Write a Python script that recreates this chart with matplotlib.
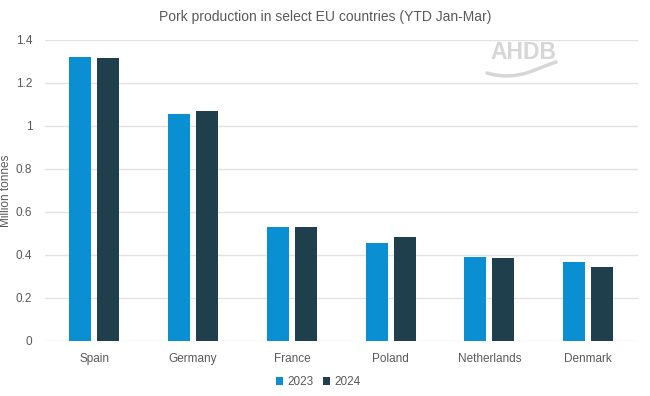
import matplotlib.pyplot as plt
import numpy as np

countries = ["Spain", "Germany", "France", "Poland", "Netherlands", "Denmark"]
prod_2023 = [1.32, 1.056, 0.528, 0.455, 0.392, 0.367]
prod_2024 = [1.315, 1.068, 0.532, 0.484, 0.388, 0.344]
yticks = [0, 0.2, 0.4, 0.6, 0.8, 1.0, 1.2, 1.4]
ytick_labels = ["0", "0.2", "0.4", "0.6", "0.8", "1", "1.2", "1.4"]

C23 = "#0b8fd3"
C24 = "#203f4c"
TXT = "#595959"

plt.rcParams["font.family"] = ["Liberation Sans", "DejaVu Sans"]

fig = plt.figure(figsize=(6.5, 3.96), dpi=100)
ax = fig.add_axes([0.069, 0.139, 0.912, 0.76])

x = np.arange(len(countries))
w = 0.223
ax.bar(x - 0.142, prod_2023, w, color=C23, label="2023", zorder=3)
ax.bar(x + 0.142, prod_2024, w, color=C24, label="2024", zorder=3)

ax.set_xlim(-0.5, len(countries) - 0.5)
ax.set_ylim(0, 1.4)
ax.set_yticks(yticks)
ax.set_yticklabels(ytick_labels)
ax.set_xticks(x)
ax.set_xticklabels(countries)
ax.grid(axis="y", color="#e2e2e2", linewidth=1, zorder=0)
for s in ax.spines.values():
    s.set_visible(False)
ax.tick_params(length=0, labelsize=8.5, colors=TXT, pad=9)

fig.text(6 / 650, 1 - 191 / 396, "Million tonnes", rotation=90,
         ha="center", va="center", fontsize=8.5, color=TXT)

fig.text(0.5, 0.958, "Pork production in select EU countries (YTD Jan-Mar)",
         ha="center", va="center", fontsize=10, color=TXT)

# AHDB watermark
fig.text(0.805, 0.868, "AHDB", ha="center", va="center", fontsize=16.5,
         color="#d6d6d6", fontweight="bold", fontstretch="condensed",
         family=["Liberation Sans Narrow", "Liberation Sans", "DejaVu Sans"])
wx = np.array([487, 495, 505, 515, 525, 535, 545, 556]) / 650
wy = 1 - np.array([73, 75, 76, 75.5, 73.5, 70, 66, 62]) / 396
fig.add_artist(plt.Line2D(wx, wy, color="#d6d6d6", linewidth=2.5,
                          solid_capstyle="round", transform=fig.transFigure))

fig.legend(*ax.get_legend_handles_labels(), loc="center",
           bbox_to_anchor=(0.49, 0.035), ncol=2,
           frameon=False, fontsize=8.5, handlelength=0.55, handleheight=0.55,
           columnspacing=0.8, handletextpad=0.4, labelcolor=TXT)

fig.savefig("out.png", dpi=100)
